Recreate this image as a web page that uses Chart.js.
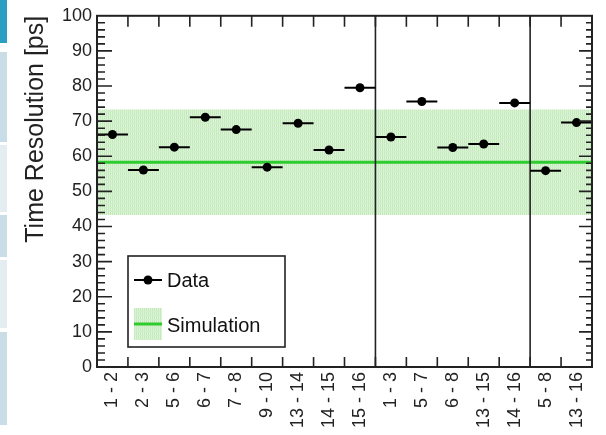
<!DOCTYPE html>
<html><head><meta charset="utf-8">
<script src="https://cdn.jsdelivr.net/npm/chart.js@4.4.1/dist/chart.umd.min.js"></script>
<style>
html,body{margin:0;padding:0;background:#fff;}
#wrap{position:relative;width:606px;height:435px;overflow:hidden;background:#fff;}
canvas{position:absolute;left:0;top:0;}
.strip{position:absolute;left:0;width:7px;}
</style></head><body>
<div id="wrap"><canvas id="c" width="606" height="435"></canvas>
<div class="strip" style="top:0;height:43px;background:#2a9fc2"></div>
<div class="strip" style="top:52px;height:90px;background:#c9dde7"></div>
<div class="strip" style="top:145px;height:67px;background:#e4eef2"></div>
<div class="strip" style="top:215px;height:42px;background:#c9dde7"></div>
<div class="strip" style="top:260px;height:68px;background:#e4eef2"></div>
<div class="strip" style="top:332px;height:93px;background:#c9dde7"></div>
</div>
<script>
// ---- data ----
const categories = ["1 - 2","2 - 3","5 - 6","6 - 7","7 - 8","9 - 10","13 - 14","14 - 15","15 - 16",
                    "1 - 3","5 - 7","6 - 8","13 - 15","14 - 16","5 - 8","13 - 16"];
const dataValues = [66.2,56.1,62.6,71.1,67.6,56.9,69.4,61.8,79.5,65.5,75.6,62.5,63.5,75.2,55.9,69.6];
const simValue = 58.3;
const simBand = [43.3, 73.3];
const separators = [9, 14];
const yRange = [0, 100];
const yMajorStep = 10;
const yMinorStep = 2;
const seriesLabels = ["Data", "Simulation"];
const yTitle = "Time Resolution [ps]";

// ---- styles ----
const FONT = "'Liberation Sans', Arial, sans-serif";
const simGreen = '#2ecc2e';
function makeBandPattern() {
  const pc = document.createElement('canvas');
  pc.width = 4; pc.height = 4;
  const g = pc.getContext('2d');
  g.fillStyle = '#c4eabc'; g.fillRect(0,0,4,4);
  g.fillStyle = '#dcf4d7'; g.fillRect(1,0,1,4); g.fillRect(3,0,1,4);
  g.fillStyle = '#d0efca'; g.fillRect(0,3,4,1);
  return document.getElementById('c').getContext('2d').createPattern(pc, 'repeat');
}
const bandFill = makeBandPattern();

// ---- derived datasets ----
const n = categories.length;
const pointData = dataValues.map((v, i) => ({x: i + 0.5, y: v}));
const barData = [];
dataValues.forEach((v, i) => { barData.push({x: i, y: v}, {x: i + 1, y: v}, {x: i + 1, y: null}); });
const sepData = [];
separators.forEach(s => { sepData.push({x: s, y: yRange[0]}, {x: s, y: yRange[1]}, {x: s, y: null}); });
const simLine = [{x: 0, y: simValue}, {x: n, y: simValue}];
const bandHi = [{x: 0, y: simBand[1]}, {x: n, y: simBand[1]}];
const bandLo = [{x: 0, y: simBand[0]}, {x: n, y: simBand[0]}];

const framePlugin = {
  id: 'frame',
  afterDatasetsDraw(chart) {
    const {ctx, chartArea: {left, right, top, bottom}, scales: {x, y}} = chart;
    ctx.save();
    ctx.strokeStyle = '#222';
    ctx.lineWidth = 1.6;
    ctx.beginPath();
    for (let v = yRange[0] + yMinorStep; v < yRange[1]; v += yMinorStep) {
      const py = y.getPixelForValue(v);
      const major = Math.abs(v % yMajorStep) < 1e-6;
      ctx.moveTo(left, py); ctx.lineTo(left + (major ? 15 : 8), py);
      ctx.moveTo(right, py); ctx.lineTo(right - (major ? 13 : 6), py);
    }
    for (let i = 1; i < n; i++) {
      const px = x.getPixelForValue(i);
      ctx.moveTo(px, bottom); ctx.lineTo(px, bottom - 10);
      ctx.moveTo(px, top); ctx.lineTo(px, top + 11);
    }
    ctx.stroke();
    ctx.lineWidth = 2;
    ctx.strokeRect(left, top, right - left, bottom - top);
    ctx.restore();
  }
};

const legendPlugin = {
  id: 'rootLegend',
  afterDraw(chart) {
    const {ctx, chartArea: {left, bottom}} = chart;
    const bx = left + 31, by = bottom - 111, bw = 157, bh = 91;
    ctx.save();
    ctx.fillStyle = '#fff';
    ctx.fillRect(bx, by, bw, bh);
    ctx.strokeStyle = '#222'; ctx.lineWidth = 1.6;
    ctx.strokeRect(bx, by, bw, bh);
    // Data entry
    const y1 = by + 24;
    ctx.strokeStyle = '#000'; ctx.lineWidth = 2;
    ctx.beginPath(); ctx.moveTo(bx + 6, y1); ctx.lineTo(bx + 34, y1); ctx.stroke();
    ctx.fillStyle = '#000';
    ctx.beginPath(); ctx.arc(bx + 20, y1, 4.5, 0, Math.PI * 2); ctx.fill();
    // Simulation entry
    const y2 = by + 68;
    ctx.fillStyle = bandFill;
    ctx.fillRect(bx + 6, y2 - 16, 28, 32);
    ctx.strokeStyle = simGreen; ctx.lineWidth = 3;
    ctx.beginPath(); ctx.moveTo(bx + 6, y2); ctx.lineTo(bx + 34, y2); ctx.stroke();
    ctx.fillStyle = '#111';
    ctx.font = "20px " + FONT;
    ctx.textBaseline = 'middle';
    ctx.fillText(seriesLabels[0], bx + 39, y1 + 1);
    ctx.fillText(seriesLabels[1], bx + 39, y2 + 2);
    ctx.restore();
  }
};

new Chart(document.getElementById('c'), {
  type: 'scatter',
  data: {
    datasets: [
      {label: seriesLabels[0], data: pointData, pointRadius: 4.5, pointBackgroundColor: '#000', pointBorderWidth: 0, showLine: false},
      {label: 'bars', data: barData, showLine: true, borderColor: '#000', borderWidth: 2, pointRadius: 0, spanGaps: false, borderCapStyle: 'butt'},
      {label: 'sep', data: sepData, showLine: true, borderColor: '#222', borderWidth: 1.6, pointRadius: 0, spanGaps: false},
      {label: seriesLabels[1], data: simLine, showLine: true, borderColor: simGreen, borderWidth: 3, pointRadius: 0},
      {label: 'bandHi', data: bandHi, showLine: true, borderWidth: 0, borderColor: 'rgba(0,0,0,0)', pointRadius: 0, fill: '+1', backgroundColor: bandFill},
      {label: 'bandLo', data: bandLo, showLine: true, borderWidth: 0, borderColor: 'rgba(0,0,0,0)', pointRadius: 0}
    ]
  },
  options: {
    responsive: false,
    animation: false,
    events: [],
    devicePixelRatio: 1,
    layout: {padding: {left: 17, top: 13, right: 14, bottom: 0}},
    plugins: {legend: {display: false}, tooltip: {enabled: false}},
    scales: {
      x: {
        type: 'linear', min: 0, max: n,
        grid: {display: false, drawTicks: false},
        border: {display: false},
        afterBuildTicks(scale) { scale.ticks = categories.map((c, i) => ({value: i + 0.5})); },
        afterFit(scale) { scale.height = 68; },
        ticks: {
          autoSkip: false, maxRotation: 90, minRotation: 90, padding: 5,
          color: '#222', font: {family: FONT, size: 18},
          callback: (v) => categories[Math.floor(v)]
        }
      },
      y: {
        type: 'linear', min: yRange[0], max: yRange[1],
        grid: {display: false, drawTicks: false},
        border: {display: false},
        afterFit(scale) { scale.width = 80; },
        ticks: {stepSize: yMajorStep, padding: 5, color: '#222', font: {family: FONT, size: 18}},
        title: {display: true, text: yTitle, align: 'end', color: '#222', font: {family: FONT, size: 25}}
      }
    }
  },
  plugins: [framePlugin, legendPlugin]
});
</script>
</body></html>
